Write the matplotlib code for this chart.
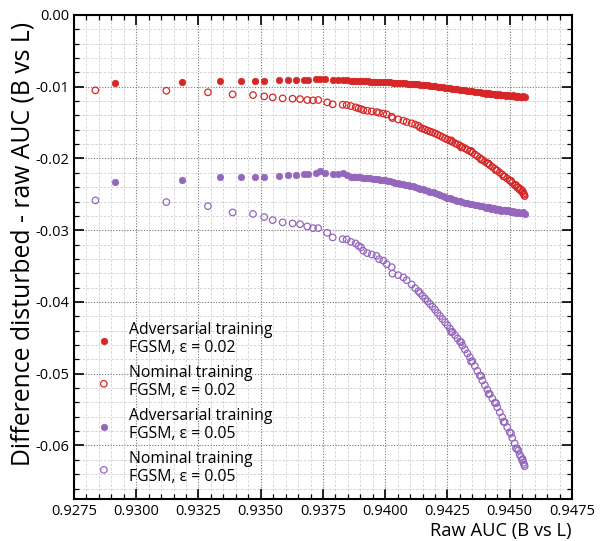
import matplotlib
matplotlib.use("Agg")
import matplotlib.pyplot as plt
from matplotlib.ticker import MultipleLocator, FormatStrFormatter

plt.rcParams['font.family'] = ['Open Sans', 'DejaVu Sans']
plt.rcParams['axes.unicode_minus'] = False

# ---------------- data ----------------
# Adversarial training models (filled markers): raw AUC
adv_auc = [0.92916, 0.93183, 0.93336, 0.93422, 0.93475, 0.93514, 0.93575, 0.93611,
           0.93643, 0.93674, 0.93690, 0.93723, 0.93740, 0.93759, 0.93791, 0.93811,
           0.93832, 0.93846, 0.93861,
           0.9387, 0.9388, 0.9389, 0.9390, 0.9391, 0.9392, 0.9393, 0.9394, 0.9395,
           0.9396, 0.9397, 0.9398, 0.9399, 0.9400, 0.9401, 0.9402, 0.9403, 0.9404,
           0.9405, 0.9406, 0.9407, 0.9408, 0.9409, 0.9410, 0.9411, 0.9412, 0.9413,
           0.9414, 0.9415, 0.9416, 0.9417, 0.9418, 0.9419, 0.9420, 0.9421, 0.9422,
           0.9423, 0.9424, 0.9425, 0.9426, 0.9427, 0.9428, 0.9429, 0.9430, 0.9431,
           0.9432, 0.9433, 0.9434, 0.9435, 0.9436, 0.9437, 0.9438, 0.9439, 0.9440,
           0.9441, 0.9442, 0.9443, 0.9444, 0.9445, 0.9446, 0.9447, 0.9448, 0.9449,
           0.9450, 0.9451, 0.9452, 0.9453, 0.9454, 0.9455, 0.9456,
           0.94405, 0.94415, 0.94425, 0.94435, 0.94445, 0.94455, 0.94465, 0.94475,
           0.94485, 0.94495, 0.94505, 0.94515, 0.94525, 0.94535, 0.94545, 0.94555]
adv_eps002 = [-0.009484, -0.009344, -0.009205, -0.009205, -0.009205, -0.009205, -0.009107, -0.009107,
              -0.009066, -0.009066, -0.009024, -0.008968, -0.008884, -0.008968, -0.009024, -0.009024,
              -0.009024, -0.009066, -0.009163,
              -0.00918, -0.00919, -0.00921, -0.00922, -0.00924, -0.00925, -0.00926, -0.00928, -0.00929,
              -0.00930, -0.00931, -0.00932, -0.00933, -0.00934, -0.00936, -0.00939, -0.00941, -0.00944,
              -0.00946, -0.00948, -0.00950, -0.00953, -0.00955, -0.00957, -0.00960, -0.00964, -0.00967,
              -0.00971, -0.00974, -0.00978, -0.00982, -0.00986, -0.00990, -0.00994, -0.00999, -0.01003,
              -0.01008, -0.01012, -0.01017, -0.01021, -0.01026, -0.01030, -0.01035, -0.01039, -0.01044,
              -0.01049, -0.01054, -0.01058, -0.01063, -0.01068, -0.01073, -0.01078, -0.01083, -0.01088,
              -0.01092, -0.01096, -0.01101, -0.01105, -0.01109, -0.01112, -0.01115, -0.01118, -0.01121,
              -0.01124, -0.01127, -0.01131, -0.01134, -0.01138, -0.01141, -0.01148,
              -0.01097, -0.01088, -0.01104, -0.01097, -0.01116, -0.01104, -0.01120, -0.01110,
              -0.01127, -0.01116, -0.01132, -0.01122, -0.01140, -0.01128, -0.01146, -0.01135]
adv_eps005 = [-0.023333, -0.022971, -0.022636, -0.022636, -0.022552, -0.022552, -0.022497, -0.022357,
              -0.022273, -0.022218, -0.022106, -0.021994, -0.021757, -0.022078, -0.022176, -0.022176,
              -0.022078, -0.022357, -0.022636,
              -0.02264, -0.02262, -0.02265, -0.02264, -0.02268, -0.02271, -0.02275, -0.02278, -0.02282,
              -0.02286, -0.02291, -0.02295, -0.02300, -0.02304, -0.02312, -0.02320, -0.02328, -0.02336,
              -0.02343, -0.02350, -0.02357, -0.02364, -0.02372, -0.02380, -0.02390, -0.02400, -0.02410,
              -0.02420, -0.02430, -0.02441, -0.02452, -0.02463, -0.02474, -0.02485, -0.02497, -0.02509,
              -0.02521, -0.02534, -0.02547, -0.02557, -0.02567, -0.02577, -0.02587, -0.02597, -0.02606,
              -0.02614, -0.02623, -0.02631, -0.02640, -0.02647, -0.02654, -0.02661, -0.02668, -0.02675,
              -0.02682, -0.02689, -0.02695, -0.02702, -0.02709, -0.02714, -0.02719, -0.02724, -0.02729,
              -0.02734, -0.02740, -0.02745, -0.02751, -0.02756, -0.02762, -0.02773,
              -0.02688, -0.02676, -0.02700, -0.02690, -0.02718, -0.02703, -0.02728, -0.02714,
              -0.02738, -0.02722, -0.02746, -0.02730, -0.02756, -0.02740, -0.02766, -0.02750]

# Nominal training models (open markers): raw AUC
nom_auc = [0.92836, 0.93121, 0.93288, 0.93387, 0.93469, 0.93514, 0.93548, 0.93588,
           0.93628, 0.93658, 0.93687, 0.93710, 0.93731, 0.93767, 0.93789, 0.93829,
           0.93845, 0.93862, 0.93881, 0.93893, 0.93903, 0.93912, 0.93928, 0.93946,
           0.93965, 0.93975, 0.93992, 0.94006, 0.94026, 0.94029, 0.94052, 0.94073,
           0.94086, 0.94106, 0.94120, 0.94133,
           0.9414, 0.9415, 0.9416, 0.9417, 0.9418, 0.9419, 0.9420, 0.9421, 0.9422,
           0.9423, 0.9424, 0.9425, 0.9426, 0.9427, 0.9428, 0.9429, 0.9430, 0.9431,
           0.9432, 0.9433, 0.9434, 0.9435, 0.9436, 0.9437, 0.9438, 0.9439, 0.9440,
           0.9441, 0.9442, 0.9443, 0.9444, 0.9445, 0.9446, 0.9447, 0.9448, 0.9449,
           0.9450, 0.9451, 0.9452, 0.9453, 0.9454, 0.9455, 0.9456,
           0.94545, 0.94555, 0.94558, 0.94552,
           0.94265, 0.94305, 0.94345, 0.94385, 0.94415, 0.94445, 0.94475, 0.94505,
           0.94525, 0.94535]
nom_eps002 = [-0.01050, -0.01056, -0.01078, -0.01106, -0.01116, -0.01134, -0.01148, -0.01162,
              -0.01167, -0.01172, -0.01185, -0.01190, -0.01185, -0.01218, -0.01245, -0.01251,
              -0.01255, -0.01269, -0.01287, -0.01301, -0.01311, -0.01325, -0.01335, -0.01343,
              -0.01353, -0.01363, -0.01374, -0.01385, -0.01418, -0.01437, -0.01455, -0.01474,
              -0.01492, -0.01510, -0.01527, -0.01544,
              -0.01569, -0.01583, -0.01597, -0.01611, -0.01625, -0.01636, -0.01650, -0.01667, -0.01685,
              -0.01702, -0.01720, -0.01736, -0.01753, -0.01770, -0.01787, -0.01803, -0.01820, -0.01840,
              -0.01859, -0.01879, -0.01898, -0.01918, -0.01943, -0.01968, -0.01993, -0.02018, -0.02043,
              -0.02068, -0.02093, -0.02118, -0.02144, -0.02169, -0.02197, -0.02224, -0.02252, -0.02280,
              -0.02308, -0.02340, -0.02372, -0.02404, -0.02437, -0.02469, -0.02524,
              -0.02430, -0.02490, -0.02505, -0.02455,
              -0.01748, -0.01845, -0.01895, -0.02015, -0.02070, -0.02165, -0.02250, -0.02310,
              -0.02370, -0.02405]
nom_eps005 = [-0.02584, -0.02608, -0.02664, -0.02752, -0.02773, -0.02817, -0.02859, -0.02891,
              -0.02905, -0.02915, -0.02947, -0.02971, -0.02971, -0.03036, -0.03100, -0.03124,
              -0.03128, -0.03162, -0.03184, -0.03218, -0.03240, -0.03287, -0.03319, -0.03338,
              -0.03357, -0.03403, -0.03424, -0.03473, -0.03515, -0.03605, -0.03626, -0.03658,
              -0.03696, -0.03756, -0.03808, -0.03849,
              -0.03877, -0.03915, -0.03953, -0.03990, -0.04028, -0.04066, -0.04107, -0.04153, -0.04195,
              -0.04238, -0.04282, -0.04324, -0.04370, -0.04416, -0.04462, -0.04508, -0.04554, -0.04608,
              -0.04662, -0.04717, -0.04771, -0.04826, -0.04893, -0.04960, -0.05027, -0.05094, -0.05160,
              -0.05222, -0.05283, -0.05345, -0.05406, -0.05467, -0.05537, -0.05607, -0.05676, -0.05746,
              -0.05816, -0.05894, -0.05972, -0.06050, -0.06128, -0.06206, -0.06290,
              -0.06160, -0.06240, -0.06265, -0.06190,
              -0.04420, -0.04560, -0.04830, -0.05030, -0.05280, -0.05410, -0.05670, -0.05830,
              -0.06040, -0.06070]

labels = ["Adversarial training\nFGSM, ε = 0.02",
          "Nominal training\nFGSM, ε = 0.02",
          "Adversarial training\nFGSM, ε = 0.05",
          "Nominal training\nFGSM, ε = 0.05"]
red = "#d62728"
purple = "#9467bd"

# ---------------- plot ----------------
fig = plt.figure(figsize=(6.0, 5.41), dpi=100)
ax = fig.add_axes([0.1233, 0.0771, 0.83, 0.8952])

ms = 22
ax.scatter(adv_auc, adv_eps002, s=ms, color=red, edgecolors=red, linewidths=0.5, label=labels[0], zorder=3)
ax.scatter(nom_auc, nom_eps002, s=ms, facecolors='none', edgecolors=red, linewidths=0.9, label=labels[1], zorder=3)
ax.scatter(adv_auc, adv_eps005, s=ms, color=purple, edgecolors=purple, linewidths=0.5, label=labels[2], zorder=3)
ax.scatter(nom_auc, nom_eps005, s=ms, facecolors='none', edgecolors=purple, linewidths=0.9, label=labels[3], zorder=3)

ax.set_xlim(0.9275, 0.9475)
ax.set_ylim(-0.0675, 0.0)
ax.xaxis.set_major_locator(MultipleLocator(0.0025))
ax.xaxis.set_minor_locator(MultipleLocator(0.0005))
ax.yaxis.set_major_locator(MultipleLocator(0.01))
ax.yaxis.set_minor_locator(MultipleLocator(0.002))
ax.xaxis.set_major_formatter(FormatStrFormatter('%.4f'))
ax.yaxis.set_major_formatter(FormatStrFormatter('%.2f'))

ax.grid(which='major', color='#555555', linestyle=(0, (1, 1.5)), linewidth=0.8, alpha=0.8)
ax.grid(which='minor', color='#bbbbbb', linestyle=(0, (3, 2)), linewidth=0.6, alpha=0.7)
ax.set_axisbelow(True)

ax.tick_params(which='both', direction='in', top=True, right=True, labelsize=10.5)
ax.tick_params(which='major', length=7, width=1.2)
ax.tick_params(which='minor', length=3.5, width=0.9)
for sp in ax.spines.values():
    sp.set_linewidth(1.5)

ax.set_xlabel("Raw AUC (B vs L)", fontsize=13.2, loc='right', labelpad=2)
ax.set_ylabel("Difference disturbed - raw AUC (B vs L)", fontsize=17.8, loc='top')
ax.yaxis.set_label_coords(-0.077, 0.985)

ax.legend(loc='lower left', frameon=False, fontsize=11.3, labelspacing=0.55,
          handletextpad=0.6, borderaxespad=0.5)

fig.savefig("out.png", dpi=100)
